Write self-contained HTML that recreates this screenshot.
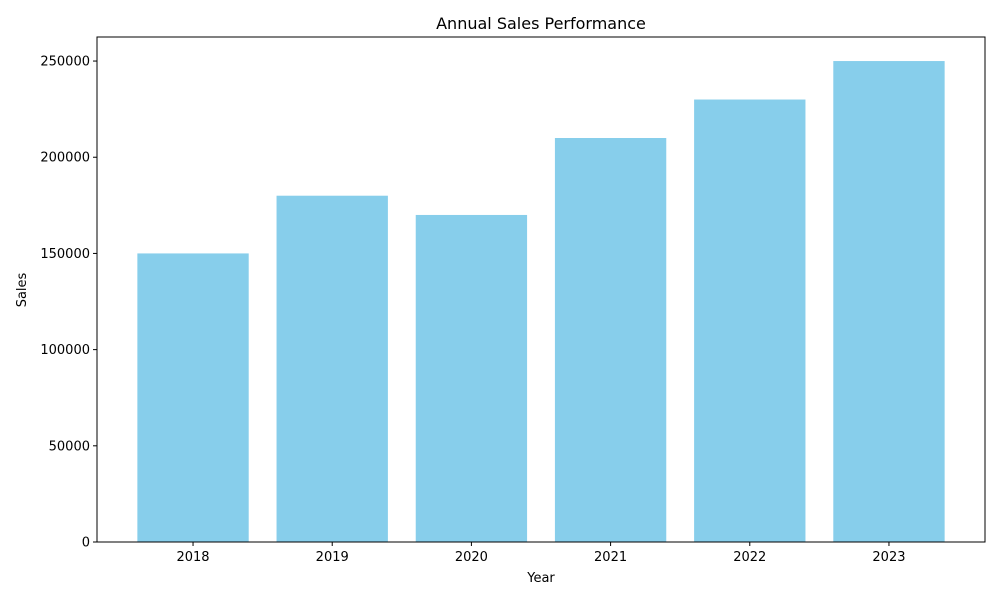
<!DOCTYPE html>
<html><head><meta charset="utf-8"><style>
body{margin:0;background:#fff;}
text{font-family:"DejaVu Sans","Liberation Sans",sans-serif;}
</style></head><body>
<svg id="chart" width="1000" height="600" xmlns="http://www.w3.org/2000/svg">
<rect width="1000" height="600" fill="#fff"/>
<text x="541" y="29" font-size="16" text-anchor="middle">Annual Sales Performance</text>
<g id="bars"></g>
<g id="axes"></g>
<text x="541" y="582" font-size="13" text-anchor="middle">Year</text>
<text transform="translate(26,290) rotate(-90)" font-size="13" text-anchor="middle">Sales</text>
</svg>
<script>
const categories = ["2018","2019","2020","2021","2022","2023"];
const sales = [150000,180000,170000,210000,230000,250000];
const yTicks = [0,50000,100000,150000,200000,250000];

const L=97,R=985,T=37,B=542;
const yMax=262500;
const xMin=-0.69,xMax=categories.length-1+0.69;
const sx=v=>L+(v-xMin)/(xMax-xMin)*(R-L);
const sy=v=>B-v/yMax*(B-T);
const NS="http://www.w3.org/2000/svg";
function mk(tag,attrs,parent){const e=document.createElementNS(NS,tag);for(const k in attrs)e.setAttribute(k,attrs[k]);parent.appendChild(e);return e;}
const bars=document.getElementById('bars'),axes=document.getElementById('axes');
sales.forEach((v,i)=>{
  const x0=sx(i-0.4),x1=sx(i+0.4);
  const r=mk('rect',{x:x0,y:sy(v),width:x1-x0,height:B-sy(v),fill:'#87ceeb'},bars);
  
  
});
const frame=mk('rect',{x:L,y:T,width:R-L,height:B-T,fill:'none',stroke:'#000','stroke-width':1},axes);


categories.forEach((c,i)=>{
  const x=sx(i);
  mk('line',{x1:x,x2:x,y1:B,y2:B+4,stroke:'#000'},axes);
  const t=mk('text',{x:x,y:B+19,'font-size':13,'text-anchor':'middle'},axes);
  t.textContent=c;
  
  
});
yTicks.forEach(v=>{
  const y=sy(v);
  mk('line',{x1:L-4,x2:L,y1:y,y2:y,stroke:'#000'},axes);
  const t=mk('text',{x:L-7,y:y+4.5,'font-size':13,'text-anchor':'end'},axes);
  t.textContent=v;
  
  
});
</script>
</body></html>
